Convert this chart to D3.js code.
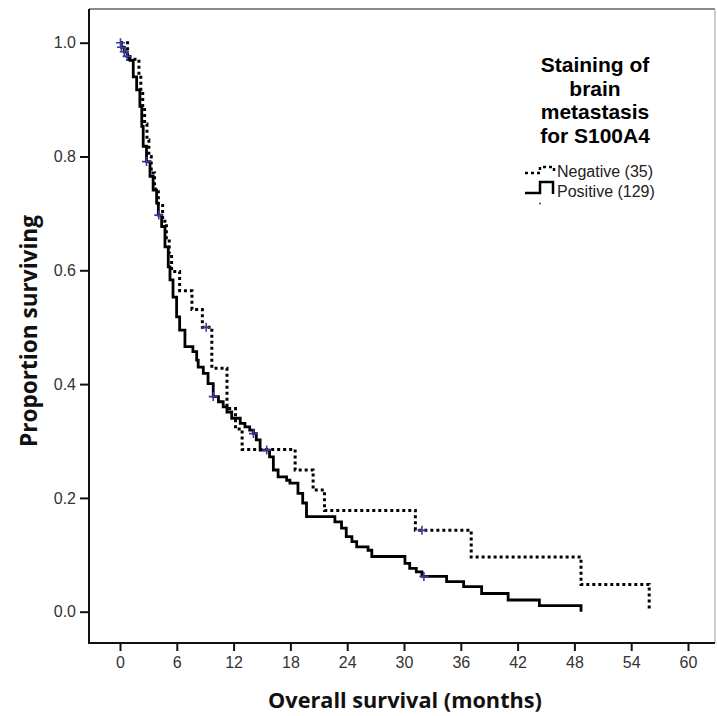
<!DOCTYPE html>
<html>
<head>
<meta charset="utf-8">
<script src="https://d3js.org/d3.v7.min.js"></script>
<style>
  html, body { margin: 0; padding: 0; background: #fff; }
  svg { display: block; }
</style>
</head>
<body>
<script>
// ---------- DATA ----------
const xTicks = [0, 6, 12, 18, 24, 30, 36, 42, 48, 54, 60];
const yTicks = [0.0, 0.2, 0.4, 0.6, 0.8, 1.0];

// Positive (129): step points [months, proportion surviving after the drop]
const positiveTimes = [0, 0.15, 0.45, 0.75, 1.06, 1.4, 1.76, 2.1, 2.3, 2.45, 2.8, 3.17, 3.5, 3.87, 4.05, 4.4, 4.75, 5.1, 5.28, 5.6, 5.98, 6.3, 6.86, 7.7, 8.1, 8.26, 8.8, 9.3, 9.85, 10.4, 10.9, 11.3, 11.8, 12.7, 13.2, 13.7, 14.1, 14.4, 14.8, 15.8, 16.2, 16.7, 17.6, 17.95, 18.8, 19.3, 19.7, 22.7, 23.4, 23.9, 24.5, 25.0, 26.2, 26.6, 30.1, 30.6, 31.3, 31.9, 34.5, 36.3, 38.2, 41.0, 44.3, 48.7];
const positiveSurv  = [1.0, 0.992, 0.984, 0.976, 0.969, 0.94, 0.917, 0.888, 0.853, 0.818, 0.791, 0.765, 0.741, 0.718, 0.697, 0.677, 0.641, 0.606, 0.583, 0.553, 0.518, 0.495, 0.466, 0.457, 0.442, 0.43, 0.419, 0.401, 0.378, 0.369, 0.36, 0.351, 0.34, 0.331, 0.325, 0.319, 0.313, 0.302, 0.284, 0.272, 0.249, 0.237, 0.231, 0.226, 0.208, 0.191, 0.167, 0.158, 0.147, 0.132, 0.123, 0.114, 0.108, 0.097, 0.085, 0.076, 0.070, 0.062, 0.053, 0.044, 0.032, 0.0206, 0.0106, 0.0];
const positiveCensorTimes = [0.05, 0.15, 0.45, 0.75, 2.8, 4.1, 9.85, 14.1, 15.5, 32.1];
const positiveCensorSurv  = [1.0, 0.992, 0.984, 0.976, 0.791, 0.697, 0.378, 0.313, 0.284, 0.062];

// Negative (35)
const negativeTimes = [0, 0.8, 2.0, 2.2, 2.4, 2.6, 2.85, 3.05, 3.3, 3.65, 4.05, 4.5, 4.9, 5.2, 5.45, 6.3, 7.6, 8.7, 9.7, 11.3, 12.2, 12.9, 18.5, 20.4, 21.6, 31.2, 37.1, 48.7, 55.9];
const negativeSurv  = [1.0, 0.971, 0.943, 0.914, 0.886, 0.857, 0.829, 0.800, 0.771, 0.743, 0.714, 0.686, 0.657, 0.629, 0.598, 0.564, 0.531, 0.50, 0.428, 0.357, 0.321, 0.285, 0.249, 0.214, 0.178, 0.143, 0.096, 0.048, 0.005];
const negativeCensorTimes = [9.1, 31.9];
const negativeCensorSurv  = [0.50, 0.143];

const legendTitleLines = ["Staining of", "brain", "metastasis", "for S100A4"];
const legendLabels = ["Negative (35)", "Positive (129)"];
const xTitle = "Overall survival (months)";
const yTitle = "Proportion surviving";

// ---------- LAYOUT ----------
const W = 717, H = 716;
const frame = { left: 89, top: 9, right: 715, bottom: 643 };
const censorColor = "#3a3a9a";

const svg = d3.select("body").append("svg")
  .attr("width", W).attr("height", H)
  .style("background", "#fff");

const x = d3.scaleLinear().domain([0, 60]).range([120, 688]);
const y = d3.scaleLinear().domain([0, 1]).range([611.7, 42.7]);

// frame
svg.append("line").attr("x1", frame.left).attr("x2", frame.right)
  .attr("y1", frame.top).attr("y2", frame.top)
  .attr("stroke", "#8a8a8a").attr("stroke-width", 2);
svg.append("line").attr("x1", frame.right).attr("x2", frame.right)
  .attr("y1", frame.top).attr("y2", frame.bottom)
  .attr("stroke", "#bdbdbd").attr("stroke-width", 1.5);

// axes
const tickFont = "'Liberation Sans', Arial, sans-serif";
const yAxis = d3.axisLeft(y).tickValues(yTicks).tickFormat(d3.format(".1f"))
  .tickSize(9).tickPadding(4);
const gy = svg.append("g").attr("transform", `translate(${frame.left},0)`).call(yAxis);
gy.select(".domain").remove();
gy.append("line").attr("x1", 0).attr("x2", 0).attr("y1", frame.top).attr("y2", frame.bottom + 1)
  .attr("stroke", "#111").attr("stroke-width", 2);

const xAxis = d3.axisBottom(x).tickValues(xTicks).tickFormat(d3.format("d"))
  .tickSize(8).tickPadding(6);
const gx = svg.append("g").attr("transform", `translate(0,${frame.bottom})`).call(xAxis);
gx.select(".domain").remove();
gx.append("line").attr("x1", frame.left - 1).attr("x2", frame.right).attr("y1", 0).attr("y2", 0)
  .attr("stroke", "#111").attr("stroke-width", 2);

[gx, gy].forEach(g => {
  g.selectAll(".tick line").attr("stroke", "#111").attr("stroke-width", 2);
  g.selectAll(".tick text").attr("fill", "#333")
    .style("font-family", tickFont).style("font-size", "16px");
});

// ---------- CURVES ----------
const line = d3.line().curve(d3.curveStepAfter).x(d => x(d[0])).y(d => y(d[1]));
const posData = positiveTimes.map((t, i) => [t, positiveSurv[i]]);
const negData = negativeTimes.map((t, i) => [t, negativeSurv[i]]);

svg.append("path").datum(negData).attr("d", line)
  .attr("fill", "none").attr("stroke", "#000").attr("stroke-width", 3)
  .attr("stroke-dasharray", "3,3");
svg.append("path").datum(posData).attr("d", line)
  .attr("fill", "none").attr("stroke", "#000").attr("stroke-width", 2.8)
  .attr("stroke-linejoin", "miter");

// censor marks
function censors(times, surv) {
  const pts = times.map((t, i) => [t, surv[i]]);
  const g = svg.append("g");
  g.selectAll("path").data(pts).enter().append("path")
    .attr("d", d => {
      const cx = x(d[0]), cy = y(d[1]), s = 4.5;
      return `M${cx - s},${cy}H${cx + s}M${cx},${cy - s}V${cy + s}`;
    })
    .attr("stroke", censorColor).attr("stroke-width", 1.6).attr("fill", "none");
}
censors(positiveCensorTimes, positiveCensorSurv);
censors(negativeCensorTimes, negativeCensorSurv);

// ---------- TITLES ----------
function fitText(sel, target) {
  const w = sel.node().getComputedTextLength();
  const fs = parseFloat(sel.style("font-size"));
  sel.style("font-size", (fs * target / w).toFixed(2) + "px");
}

const xt = svg.append("text").attr("x", 405).attr("y", 708)
  .attr("text-anchor", "middle").text(xTitle)
  .style("font-family", "'Open Sans', 'DejaVu Sans', sans-serif")
  .style("font-weight", 700).style("font-size", "20px").attr("fill", "#111");
fitText(xt, 274);

const yt = svg.append("text")
  .attr("transform", "translate(37,331) rotate(-90)")
  .attr("text-anchor", "middle").text(yTitle)
  .style("font-family", "'Open Sans', 'DejaVu Sans', sans-serif")
  .style("font-weight", 700).style("font-size", "18px").attr("fill", "#111");
fitText(yt, 232);

// ---------- LEGEND ----------
const legFont = "'Liberation Sans', Arial, sans-serif";
const lt = svg.append("g");
legendTitleLines.forEach((s, i) => {
  lt.append("text").attr("x", 595).attr("y", 72 + i * 23.6)
    .attr("text-anchor", "middle").text(s)
    .style("font-family", legFont).style("font-weight", 700)
    .style("font-size", "21px").attr("fill", "#000");
});

// legend icons
const iconNeg = "M525,173H540V167H554V173";
const iconPos = "M525,193H540V182H553V194";
svg.append("path").attr("d", iconNeg).attr("fill", "none")
  .attr("stroke", "#000").attr("stroke-width", 2.5).attr("stroke-dasharray", "3,3");
svg.append("path").attr("d", iconPos).attr("fill", "none")
  .attr("stroke", "#000").attr("stroke-width", 2.5);
svg.append("circle").attr("cx", 540).attr("cy", 203.5).attr("r", 1)
  .attr("fill", censorColor);

legendLabels.forEach((s, i) => {
  svg.append("text").attr("x", 557).attr("y", 177 + i * 20)
    .text(s).style("font-family", legFont).style("font-size", "16px").attr("fill", "#222");
});
</script>
</body>
</html>
